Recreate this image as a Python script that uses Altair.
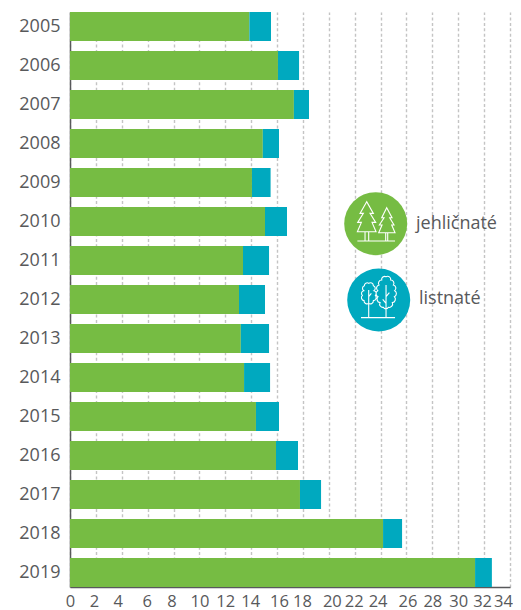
import altair as alt
import pandas as pd

years = [str(y) for y in range(2005, 2020)]
jehlicnate = [13.86, 16.07, 17.3, 14.9, 14.06, 15.07, 13.37, 13.06, 13.2, 13.45, 14.37, 15.92, 17.77, 24.19, 31.3]
listnate = [1.67, 1.63, 1.17, 1.25, 1.44, 1.7, 2.01, 2.01, 2.18, 2.01, 1.78, 1.7, 1.63, 1.47, 1.3]
x_ticks = list(range(0, 35, 2))
kinds = ["jehličnaté", "listnaté"]
GREEN = "#76bc43"
TEAL = "#00a9bf"
TEXT = "#58595b"
FONT = "Open Sans"

rows = []
for y, a, b in zip(years, jehlicnate, listnate):
    rows.append({"rok": y, "druh": kinds[0], "poradi": 0, "hodnota": a})
    rows.append({"rok": y, "druh": kinds[1], "poradi": 1, "hodnota": b})
df = pd.DataFrame(rows)

# the reference nudges its tick labels by hand; the last one also has to stay inside the page
nudges = {2: -2, 4: -4, 6: -1, 8: -2, 14: -1, 16: 2, 18: -1, 20: 3, 22: -1, 24: -3, 26: 1, 32: -2, 34: -7}
nudge_expr = "".join(f"datum.value == {k} ? {v} : " for k, v in nudges.items()) + "0"

bars = alt.Chart(df).mark_bar(size=29).encode(
    x=alt.X("hodnota:Q", stack="zero",
            scale=alt.Scale(domain=[0, 34], nice=False),
            axis=alt.Axis(values=x_ticks, title=None, grid=True, gridDash=[3, 2.4], gridColor="#c4c4c4",
                          gridWidth=1.4, ticks=False, domainColor=TEXT, domainWidth=1.5,
                          labelFont=FONT, labelFontSize=16.5, labelColor=TEXT, labelPadding=6,
                          labelOffset=alt.expr(nudge_expr),
                          labelFlush=False, labelOverlap=False)),
    y=alt.Y("rok:O", sort=years,
            scale=alt.Scale(paddingInner=10 / 39, paddingOuter=0),
            axis=alt.Axis(title=None, ticks=False, domainColor=TEXT, domainWidth=1.5,
                          labelFont=FONT, labelFontSize=18, labelColor=TEXT, labelPadding=10)),
    color=alt.Color("druh:N", scale=alt.Scale(domain=kinds, range=[GREEN, TEAL]), legend=None),
    order=alt.Order("poradi:Q"),
)


# ---- legend icons: outlines in a local icon box, converted to a [-1, 1] symbol path ----
def norm(cx, cy, px, py):
    return ((px - cx) / 3 / 32, (py - cy) / 3 / 32)


def poly(cx, cy, pts, close=True):
    out = []
    for i, (px, py) in enumerate(pts):
        nx, ny = norm(cx, cy, px, py)
        out.append(("M" if i == 0 else "L") + f"{nx:.4f} {ny:.4f}")
    return " ".join(out) + (" Z" if close else "")


def scallop(cx, cy, pts):
    nx, ny = norm(cx, cy, *pts[0])
    d = f"M{nx:.4f} {ny:.4f}"
    n = len(pts)
    for i in range(1, n + 1):
        x0, y0 = norm(cx, cy, *pts[i - 1])
        x1, y1 = norm(cx, cy, *pts[i % n])
        r = ((x1 - x0) ** 2 + (y1 - y0) ** 2) ** 0.5 * 0.56
        d += f" A{r:.4f} {r:.4f} 0 0 1 {x1:.4f} {y1:.4f}"
    return d + " Z"


c1 = (137, 131)
conifer = " ".join([
    poly(*c1, [(110, 65), (90, 100), (100, 100), (83, 127), (94, 127), (82, 155), (138, 155), (126, 127),
               (137, 127), (120, 100), (130, 100)]),
    poly(*c1, [(105, 155), (105, 182)], False),
    poly(*c1, [(116, 155), (116, 182)], False),
    poly(*c1, [(82, 183), (195, 183)], False),
    poly(*c1, [(170, 83), (155, 113), (162, 113), (148, 135), (156, 135), (146, 158), (195, 158), (185, 135),
               (192, 135), (179, 113), (186, 113)]),
    poly(*c1, [(167, 158), (167, 182)], False),
    poly(*c1, [(173, 158), (173, 182)], False),
])

c2 = (86, 90)
broadleaf = " ".join([
    scallop(*c2, [(56, 40), (70, 47), (72, 62), (76, 76), (70, 92), (56, 100), (42, 92), (37, 76), (41, 62),
                  (43, 47)]),
    poly(*c2, [(56, 60), (56, 143)], False),
    poly(*c2, [(56, 80), (64, 70)], False),
    scallop(*c2, [(108, 20), (122, 30), (130, 45), (134, 62), (133, 80), (127, 98), (115, 112), (100, 112),
                  (90, 98), (84, 80), (83, 62), (87, 45), (95, 30)]),
    poly(*c2, [(108, 45), (108, 143)], False),
    poly(*c2, [(108, 80), (118, 68)], False),
    poly(*c2, [(108, 100), (98, 88)], False),
    poly(*c2, [(33, 143), (135, 143)], False),
])

one = pd.DataFrame({"k": [0]})


def disc(x, y, colour):
    return alt.Chart(one).mark_point(filled=True, size=3969, opacity=1, color=colour).encode(
        x=alt.value(x), y=alt.value(y))


def icon(x, y, path):
    return alt.Chart(one).mark_point(filled=False, size=4096, shape=path, stroke="white", strokeWidth=1.1,
                                     opacity=1).encode(x=alt.value(x), y=alt.value(y))


def label(x, y, s):
    return alt.Chart(one).mark_text(align="left", baseline="middle", font=FONT, fontSize=18, color=TEXT).encode(
        x=alt.value(x), y=alt.value(y), text=alt.value(s))


chart = alt.layer(
    bars,
    disc(305.7, 211.7, GREEN), icon(305.7, 211.7, conifer), label(346, 212, kinds[0]),
    disc(308.7, 288, TEAL), icon(308.7, 288, broadleaf), label(349, 287, kinds[1]),
).properties(
    width=440, height=575,
    padding={"left": 62, "top": 4, "right": 3, "bottom": 23},
    autosize=alt.AutoSizeParams(type="none"),
).configure_view(stroke=None)

chart.save("out.html", embed_options={"renderer": "svg", "actions": False})
